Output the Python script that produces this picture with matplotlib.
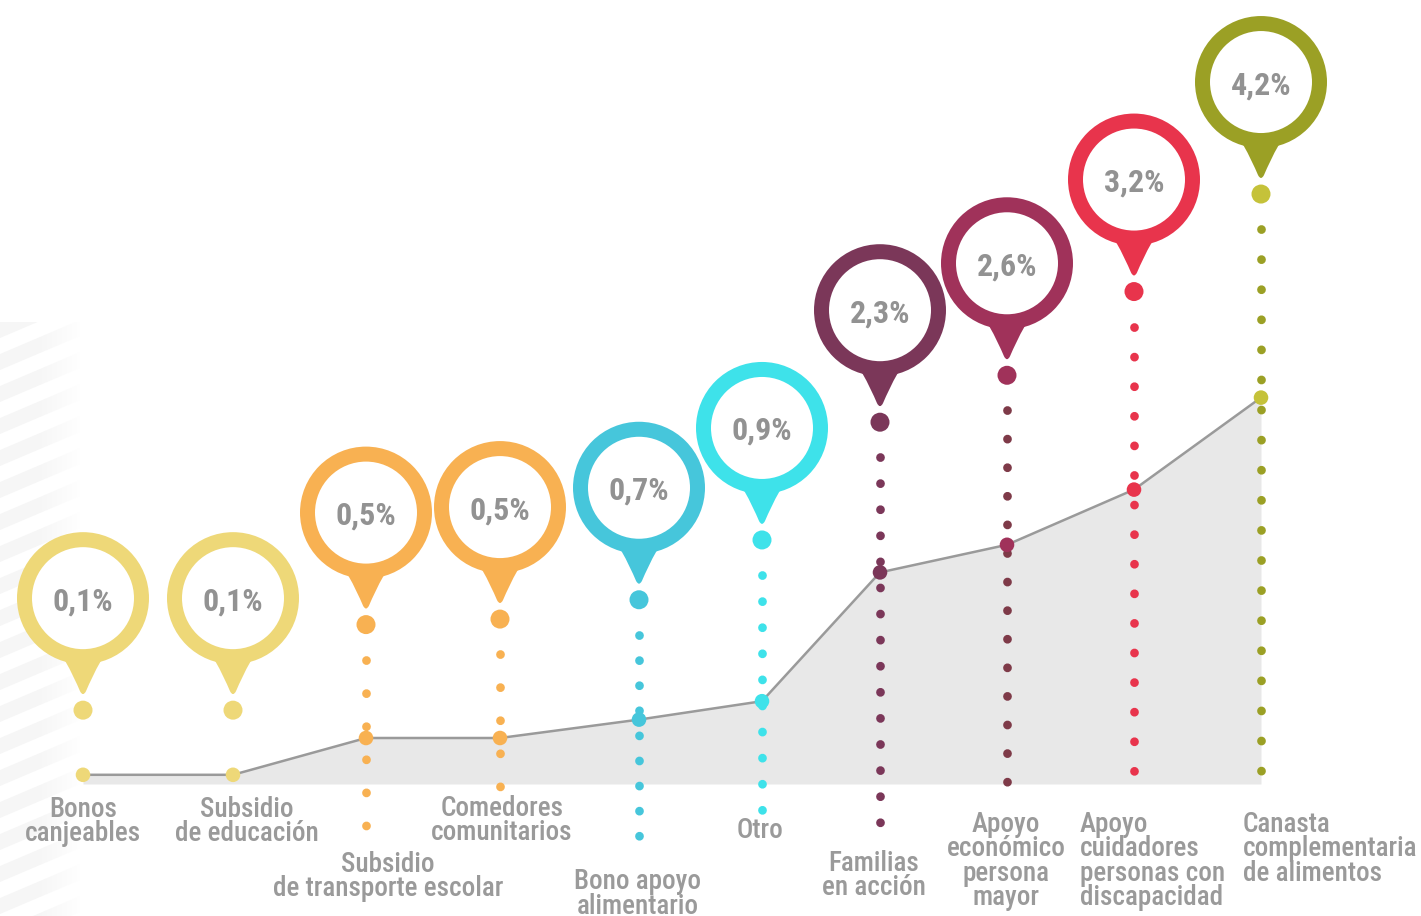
import matplotlib
matplotlib.use("Agg")
import matplotlib.pyplot as plt
import numpy as np
from matplotlib import patches, transforms
from matplotlib.path import Path
from matplotlib import font_manager as fm

# ---------------- data ----------------
categories = [
    "Bonos\ncanjeables",
    "Subsidio\nde educación",
    "Subsidio\nde transporte escolar",
    "Comedores\ncomunitarios",
    "Bono apoyo\nalimentario",
    "Otro",
    "Familias\nen acción",
    "Apoyo\neconómico\npersona\nmayor",
    "Apoyo\ncuidadores\npersonas con\ndiscapacidad",
    "Canasta\ncomplementaria\nde alimentos",
]
values = [0.1, 0.1, 0.5, 0.5, 0.7, 0.9, 2.3, 2.6, 3.2, 4.2]

# ---------------- layout / style ----------------
W, H, DPI = 1421, 916, 100
BASE_PX, PX_PER_UNIT = 784, 92.0
x_slots = [83, 233, 366, 500, 639, 762, 880, 1007, 1134, 1261]
pin_levels = [2.02, 2.02, 2.95, 3.01, 3.22, 3.87, 5.15, 5.66, 6.57, 7.63]
stem_bottom = [None, None, -0.66, -0.14, -0.83, -0.28, -0.70, -0.21, -0.10, -0.09]
dot_spacing_px = [0, 0, 33, 33, 25, 26, 26, 28.5, 29.5, 30]
label_x = [83, 247, 388, 502, 638, 760, 874, 1006, 1080, 1243]
label_y = [-0.272, -0.272, -0.870, -0.261, -1.065, -0.50, -0.859, -0.435, -0.435, -0.435]
label_ha = ["center"] * 8 + ["left", "left"]

ring_colors = ["#EED878", "#EED878", "#F8B152", "#F8B152", "#46C6DB", "#3EE2EA",
               "#7B3759", "#A0325A", "#E8344C", "#9BA025"]
dot_colors = ["#EED878", "#EED878", "#F8B152", "#F8B152", "#46C6DB", "#3EE2EA",
              "#7B3759", "#A0325A", "#E8344C", "#C5C23A"]
stem_colors = ["#EED878", "#EED878", "#F8B152", "#F8B152", "#46C6DB", "#3EE2EA",
               "#7B3759", "#7E3A48", "#E8344C", "#9BA025"]
PCT_COLOR = "#929292"
LABEL_COLOR = "#9a9a9a"

# ---------------- fonts ----------------
avail = {f.name for f in fm.fontManager.ttflist}
cond_font = None
for c in ["Roboto Condensed", "Liberation Sans Narrow", "Open Sans Condensed",
          "Noto Sans Condensed", "Arial Narrow"]:
    if c in avail:
        cond_font = c
        break
if cond_font is None:
    cond_font = "Liberation Sans"
plt.rcParams["font.family"] = [cond_font, "DejaVu Sans"]

fig = plt.figure(figsize=(W / DPI, H / DPI), dpi=DPI)
fig.patch.set_facecolor("white")

# background stripes (pixel coordinates)
bg = fig.add_axes([0, 0, 1, 1], zorder=0)
bg.set_xlim(0, W)
bg.set_ylim(H, 0)
bg.axis("off")
clip = patches.Rectangle((0, 322), 80, H - 322, transform=bg.transData, visible=False)
bg.add_patch(clip)
for k in range(-5, 30):
    y0 = 322 + k * 32
    poly = patches.Polygon([(0, y0), (80, y0 - 34), (80, y0 - 18), (0, y0 + 16)],
                           closed=True, facecolor="#f6f6f6", edgecolor="none")
    bg.add_patch(poly)
    poly.set_clip_path(clip)
# horizontal fade of the stripes to white
grad = np.zeros((2, 100, 4))
grad[..., :3] = 1.0
grad[..., 3] = np.clip((np.linspace(0, 1, 100) - 0.45) / 0.55, 0, 1)[None, :]
bg.imshow(grad, extent=(0, 82, H, 320), aspect="auto", zorder=3, interpolation="bilinear")
bg.set_xlim(0, W)
bg.set_ylim(H, 0)

# main axes: x in layout pixels, y in percentage units
ax = fig.add_axes([0, 0, 1, 1], zorder=1)
ax.patch.set_alpha(0)
ax.set_xlim(0, W)
ax.set_ylim(-(H - BASE_PX) / PX_PER_UNIT, BASE_PX / PX_PER_UNIT)
ax.axis("off")

# area + line
ax.fill_between(x_slots, 0, values, color="#e8e8e8", lw=0, zorder=1)
ax.plot(x_slots, values, color="#9a9a9a", lw=1.8, zorder=2)

# dotted stems
LW_PT = 6.3
lw_px = LW_PT * DPI / 72
for i, x in enumerate(x_slots):
    if stem_bottom[i] is None:
        continue
    top = pin_levels[i] - 147 / PX_PER_UNIT
    ax.plot([x, x], [top, stem_bottom[i]], color=stem_colors[i], lw=LW_PT,
            dashes=(0.01, dot_spacing_px[i] / lw_px), dash_capstyle="round",
            solid_capstyle="round", zorder=3)

# markers on line
ax.scatter(x_slots, values, s=110, c=dot_colors, zorder=4, linewidths=0)

# pins
s = 1 / DPI


def tail_path():
    verts = [(-21, -58), (-15, -66), (-6, -86), (-3, -93),
             (0, -99), (3, -93),
             (6, -86), (15, -66), (21, -58), (-21, -58)]
    codes = [Path.MOVETO, Path.CURVE4, Path.CURVE4, Path.CURVE4,
             Path.CURVE3, Path.CURVE3,
             Path.CURVE4, Path.CURVE4, Path.CURVE4, Path.CLOSEPOLY]
    return Path([(a * s, b * s) for a, b in verts], codes)


for i, x in enumerate(x_slots):
    tr = fig.dpi_scale_trans + transforms.ScaledTranslation(x, pin_levels[i], ax.transData)
    col = ring_colors[i]
    ax.add_patch(patches.Circle((0, 0), 66 * s, facecolor=col, edgecolor="none",
                                transform=tr, zorder=5))
    ax.add_patch(patches.PathPatch(tail_path(), facecolor=col, edgecolor="none",
                                   transform=tr, zorder=5))
    ax.add_patch(patches.Circle((0, 0), 51 * s, facecolor="white", edgecolor="none",
                                transform=tr, zorder=6))
    ax.add_patch(patches.Circle((0, -112 * s), 9.5 * s, facecolor=dot_colors[i],
                                edgecolor="none", transform=tr, zorder=5))
    txt = f"{values[i]:.1f}".replace(".", ",") + "%"
    ax.text(0, 0, txt, transform=tr, ha="center", va="center_baseline",
            fontsize=23, fontweight="bold", color=PCT_COLOR, zorder=7)

# category labels
LINE_STEP_PT = 24.5 * 72 / DPI
for i, lab in enumerate(categories):
    for j, line in enumerate(lab.split("\n")):
        ax.annotate(line, (label_x[i], label_y[i]), xytext=(0, -j * LINE_STEP_PT),
                    textcoords="offset points", ha=label_ha[i], va="center",
                    fontsize=19.5, fontweight="medium", color=LABEL_COLOR, zorder=7)

fig.savefig("out.png", dpi=DPI, facecolor="white")
